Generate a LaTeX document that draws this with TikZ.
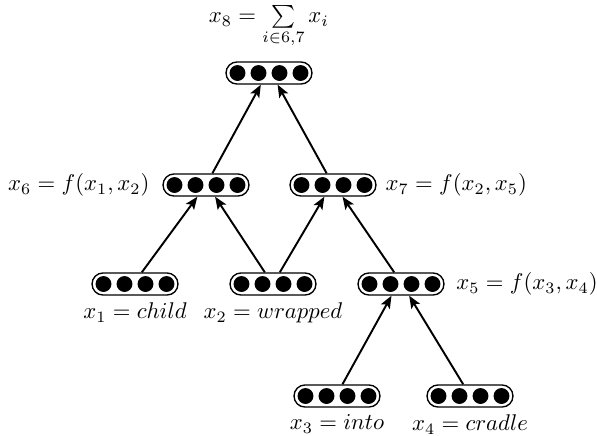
\documentclass[tikz,border=0pt]{standalone}
\usetikzlibrary{calc,arrows.meta}
\begin{document}
\begin{tikzpicture}[x=0.44pt,y=-0.44pt,
  vec/.style={draw, line width=0.6pt, rectangle, rounded corners=4.8pt,
    minimum width=37.8pt, minimum height=9.7pt, inner sep=0pt},
  lab/.style={inner sep=0pt},
  conn/.style={line width=0.85pt, -{Stealth[length=5.5pt,width=4.4pt,inset=1.2pt]}}]
\useasboundingbox (0,0) rectangle (597,435);
% nodes
\node[vec] (x8) at (269,73) {};
\node[vec] (x6) at (206,185) {};
\node[vec] (x7) at (333,185) {};
\node[vec] (x1) at (135,284) {};
\node[vec] (x2) at (273,284) {};
\node[vec] (x5) at (401,284) {};
\node[vec] (x3) at (337,396) {};
\node[vec] (x4) at (470,396) {};
% circles inside
\foreach \n in {x8,x6,x7,x1,x2,x5,x3,x4}{
  \foreach \dx in {-31.5,-10.5,10.5,31.5}{
    \fill ($(\n.center)+(\dx,0)$) circle[radius=3.5pt];
  }
}
% labels
\node[lab, anchor=south] (l8) at ([yshift=5.5pt]x8.north) {$x_8 = \sum\limits_{i\in 6,7} x_i$};
\node[lab, anchor=east] (l6) at ([xshift=-5.5pt]x6.west) {$x_6 = f(x_1, x_2)$};
\node[lab, anchor=west] (l7) at ([xshift=3.8pt]x7.east) {$x_7 = f(x_2, x_5)$};
\node[lab, anchor=west] (l5) at ([xshift=5pt]x5.east) {$x_5 = f(x_3, x_4)$};
\node[lab, anchor=north] (l1) at ([yshift=-3pt]x1.south) {$x_1 = child$};
\node[lab, anchor=north] (l2) at ([yshift=-3pt]x2.south) {$x_2 = wrapped$};
\node[lab, anchor=north] (l3) at ([yshift=-3pt]x3.south) {$x_3 = into$};
\node[lab, anchor=north] (l4) at ([yshift=-3pt]x4.south) {$x_4 = cradle$};
% connectors
\draw[conn] ([xshift=3pt]x1.north) -- ([xshift=-3.8pt]x6.south);
\draw[conn] ([xshift=-3.6pt]x2.north) -- ([xshift=4pt]x6.south);
\draw[conn] ([xshift=3pt]x2.north) -- ([xshift=-3.8pt]x7.south);
\draw[conn] ([xshift=-3pt]x5.north) -- ([xshift=4.2pt]x7.south);
\draw[conn] ([xshift=2.8pt]x6.north) -- ([xshift=-3.6pt]x8.south);
\draw[conn] ([xshift=-2.8pt]x7.north) -- ([xshift=3.8pt]x8.south);
\draw[conn] ([xshift=2.4pt]x3.north) -- ([xshift=-4.2pt]x5.south);
\draw[conn] ([xshift=-3pt]x4.north) -- ([xshift=3.6pt]x5.south);
\end{tikzpicture}
\end{document}
